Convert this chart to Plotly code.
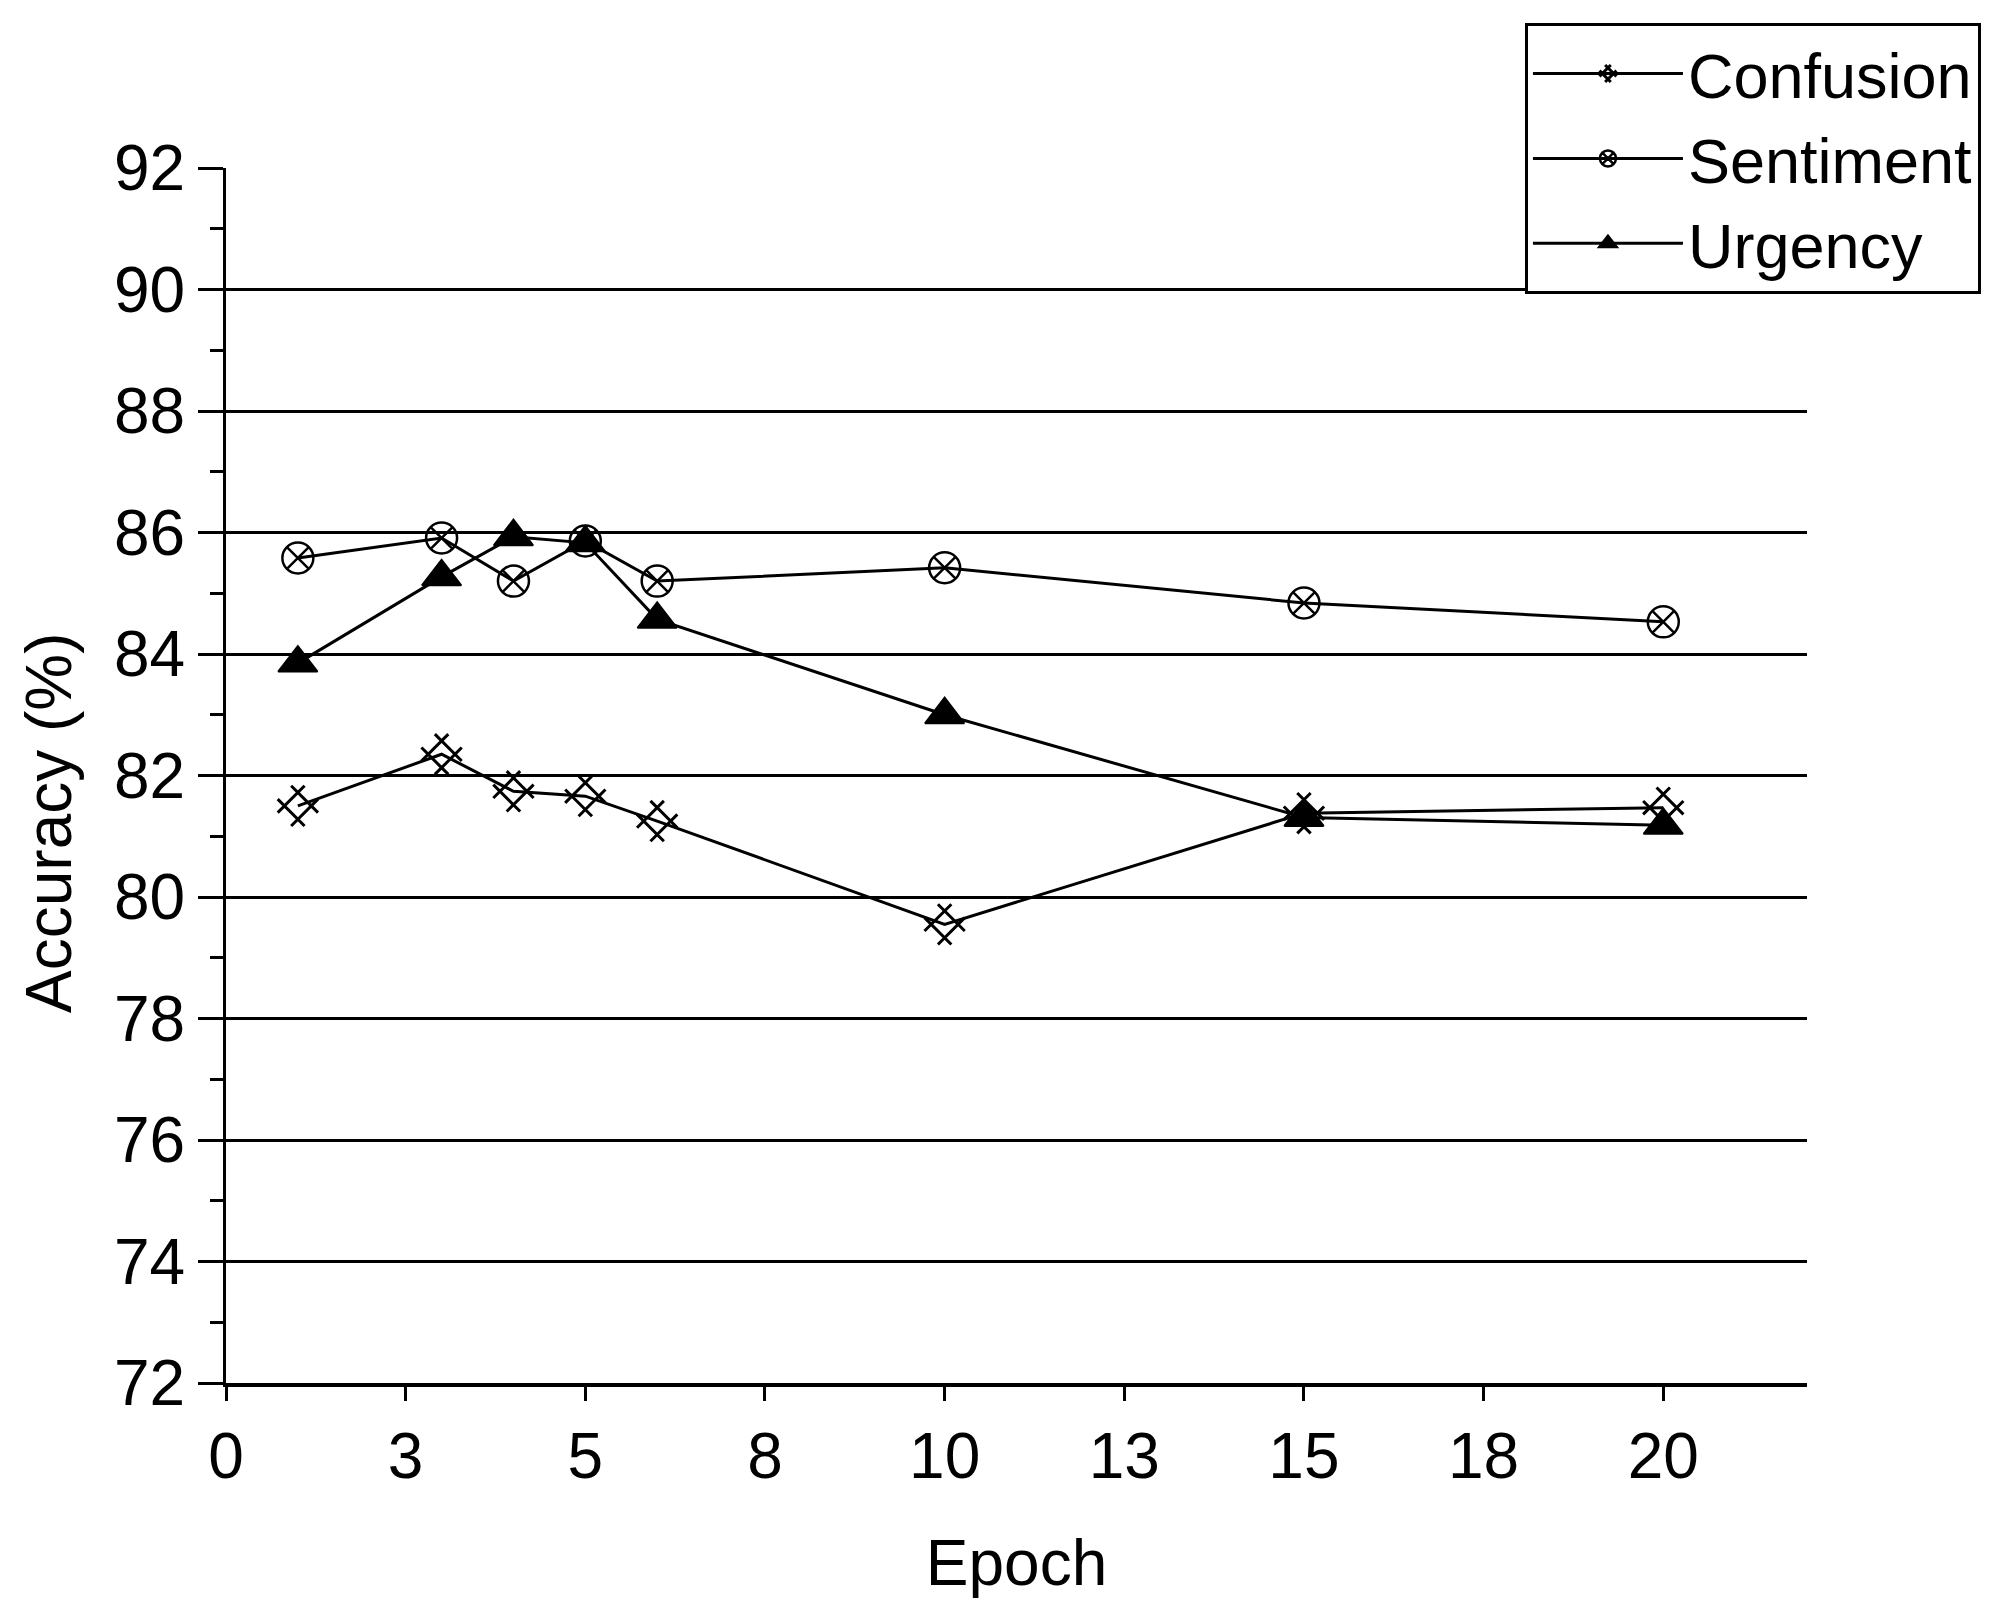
import plotly.graph_objects as go

# epochs and accuracy (%)
epochs = [1, 3, 4, 5, 6, 10, 15, 20]
confusion = [81.5, 82.35, 81.74, 81.66, 81.25, 79.55, 81.38, 81.47]
sentiment = [85.58, 85.91, 85.2, 85.86, 85.2, 85.42, 84.84, 84.53]
urgency = [83.85, 85.27, 85.93, 85.83, 84.57, 83.0, 81.31, 81.18]

x_tickvals = [0, 2.5, 5, 7.5, 10, 12.5, 15, 17.5, 20]
x_ticktext = ['0', '3', '5', '8', '10', '13', '15', '18', '20']
x_major = [0, 5, 10, 15, 20]

FONT = 'Liberation Sans'

fig = go.Figure()
fig.add_trace(go.Scatter(
    x=epochs, y=confusion, mode='lines+markers', name='Confusion',
    line=dict(color='black', width=3),
    marker=dict(symbol='hash-open', angle=45, size=38, color='black',
                line=dict(color='black', width=3)),
))
fig.add_trace(go.Scatter(
    x=epochs, y=sentiment, mode='lines+markers', name='Sentiment',
    line=dict(color='black', width=3),
    marker=dict(symbol='circle-x-open', size=31, color='black',
                line=dict(color='black', width=2.5)),
))
fig.add_trace(go.Scatter(
    x=epochs, y=urgency, mode='lines+markers', name='Urgency',
    line=dict(color='black', width=3),
    marker=dict(symbol='triangle-up', size=34, color='black',
                line=dict(color='black', width=2)),
))

# page body adds 8px offset, so margins are shifted by 8px
fig.update_layout(
    width=2012, height=1614,
    margin=dict(l=218, r=213, t=160, b=239),
    paper_bgcolor='white', plot_bgcolor='white',
    font=dict(family=FONT, size=64, color='black'),
    xaxis=dict(
        range=[0, 22], tickvals=x_tickvals, ticktext=x_ticktext,
        ticks='outside', ticklen=14, tickwidth=3, tickcolor='black',
        showline=True, linecolor='black', linewidth=4,
        showgrid=False, zeroline=False,
        title=dict(text='Epoch', font=dict(size=64), standoff=50),
    ),
    xaxis2=dict(
        overlaying='x', matches='x', anchor='y', side='bottom',
        tickvals=x_major, showticklabels=False,
        ticks='outside', ticklen=26, tickwidth=3, tickcolor='black',
        showline=False, showgrid=False, zeroline=False,
    ),
    yaxis=dict(
        range=[72, 92], tick0=72, dtick=2,
        ticks='outside', ticklen=25, tickwidth=3, tickcolor='black',
        minor=dict(dtick=1, ticks='outside', ticklen=13, tickwidth=3,
                   tickcolor='black', showgrid=False),
        showline=True, linecolor='black', linewidth=3,
        showgrid=True, gridcolor='black', gridwidth=3, zeroline=False,
    ),
    legend=dict(
        x=0.8216, y=1.1193, xanchor='left', yanchor='top',
        bordercolor='black', borderwidth=3, bgcolor='white',
        font=dict(family=FONT, size=63), itemwidth=150,
    ),
    annotations=[dict(
        text='Accuracy (%)', textangle=-90, showarrow=False,
        xref='paper', yref='paper', x=-0.112, y=0.4617,
        xanchor='center', yanchor='middle',
        font=dict(family=FONT, size=64),
    )],
)

fig.write_html('out.html')
